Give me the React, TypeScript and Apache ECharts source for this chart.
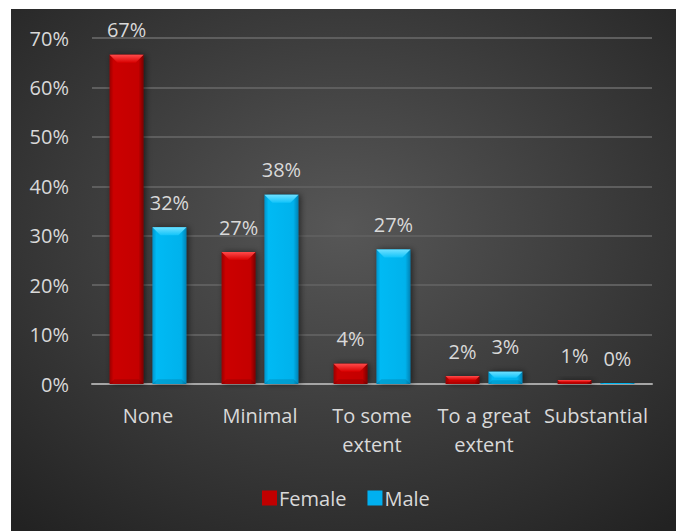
import React, { useEffect, useRef } from "react";
import * as echarts from "echarts";

const categories = ["None", "Minimal", "To some\nextent", "To a great\nextent", "Substantial"];
const femaleValues = [66.6, 26.7, 4.1, 1.6, 0.8];
const maleValues = [31.7, 38.3, 27.2, 2.5, 0.2];
const yTicks = [0, 10, 20, 30, 40, 50, 60, 70];

const FONT = "Open Sans";
const TXT = "#d9d9d9";
const FS = 20;

const BAR_W = 34;
const GAP_RATIO = 0.26;

export default function App() {
  const ref = useRef<HTMLDivElement>(null);
  useEffect(() => {
    if (!ref.current) return;
    const chart = echarts.init(ref.current, undefined, { renderer: "svg" });
    const redGrad = new echarts.graphic.LinearGradient(0, 0, 1, 0, [
      { offset: 0, color: "#9a0000" },
      { offset: 0.12, color: "#cc0000" },
      { offset: 0.85, color: "#c40000" },
      { offset: 1, color: "#7a0000" },
    ]);
    const cyanGrad = new echarts.graphic.LinearGradient(0, 0, 1, 0, [
      { offset: 0, color: "#0094cc" },
      { offset: 0.12, color: "#00baf4" },
      { offset: 0.85, color: "#00b2ec" },
      { offset: 1, color: "#0082b4" },
    ]);
    const label = {
      show: true,
      position: "top" as const,
      distance: 15,
      color: TXT,
      fontFamily: FONT,
      fontSize: FS,
      formatter: (p: any) => Math.round(p.value) + "%",
    };
    const bevelData: number[][] = [];
    femaleValues.forEach((v, i) => bevelData.push([i, v, 0]));
    maleValues.forEach((v, i) => bevelData.push([i, v, 1]));

    const bevelColors = [
      ["#ff4a4a", "#d80000"],
      ["#6ee0ff", "#12c4fa"],
    ];

    chart.setOption({
      animation: false,
      backgroundColor: {
        type: "radial",
        x: 0.5,
        y: 0.42,
        r: 0.75,
        colorStops: [
          { offset: 0, color: "#575757" },
          { offset: 1, color: "#222222" },
        ],
      },
      textStyle: { fontFamily: FONT },
      grid: { left: 81, right: 24, top: 29, bottom: 147 },
      legend: {
        top: 478,
        left: 251,
        padding: 0,
        itemWidth: 15,
        itemHeight: 15,
        itemGap: 21,
        icon: "rect",
        textStyle: { color: TXT, fontSize: FS, fontFamily: FONT, lineHeight: 22, padding: [0, 0, 0, -3] },
        data: [
          { name: "Female", itemStyle: { color: "#c00000" } },
          { name: "Male", itemStyle: { color: "#00b0f0" } },
        ],
      },
      xAxis: {
        type: "category",
        data: categories,
        axisLine: { lineStyle: { color: "#a6a6a6", width: 2 } },
        axisTick: { show: false },
        axisLabel: { color: TXT, fontSize: FS, fontFamily: FONT, margin: 17, lineHeight: 29, interval: 0 },
      },
      yAxis: {
        type: "value",
        min: yTicks[0],
        max: yTicks[yTicks.length - 1],
        interval: 10,
        axisLine: { show: false },
        axisTick: { show: false },
        axisLabel: { color: TXT, fontSize: FS, fontFamily: FONT, margin: 23, formatter: "{value}%" },
        splitLine: { lineStyle: { color: "#5e5e5e", width: 2 } },
      },
      series: [
        {
          name: "Female",
          type: "bar",
          data: femaleValues,
          barWidth: BAR_W,
          barGap: GAP_RATIO * 100 + "%",
          itemStyle: {
            color: redGrad,
            shadowBlur: 6,
            shadowColor: "rgba(0,0,0,0.55)",
            shadowOffsetX: 2,
            shadowOffsetY: 0,
          },
          label,
        },
        {
          name: "Male",
          type: "bar",
          data: maleValues,
          barWidth: BAR_W,
          itemStyle: {
            color: cyanGrad,
            shadowBlur: 6,
            shadowColor: "rgba(0,0,0,0.55)",
            shadowOffsetX: 2,
            shadowOffsetY: 0,
          },
          label,
        },
        {
          name: "bevel",
          type: "custom",
          silent: true,
          z: 5,
          data: bevelData,
          renderItem: (params: any, api: any) => {
            const idx = api.value(0);
            const v = api.value(1);
            const s = api.value(2);
            const topPt = api.coord([idx, v]);
            const basePt = api.coord([idx, 0]);
            const off = (BAR_W + BAR_W * GAP_RATIO) / 2;
            const cx = topPt[0] + (s === 0 ? -off : off);
            const x0 = cx - BAR_W / 2;
            const x1 = cx + BAR_W / 2;
            const h = basePt[1] - topPt[1];
            if (h < 1) return { type: "group", children: [] };
            const b = Math.min(8, h / 2);
            const top = topPt[1];
            const bot = basePt[1];
            const c = bevelColors[s];
            return {
              type: "group",
              children: [
                {
                  type: "polygon",
                  shape: {
                    points: [
                      [x0, top],
                      [x1, top],
                      [x1 - b, top + b],
                      [x0 + b, top + b],
                    ],
                  },
                  style: {
                    fill: new echarts.graphic.LinearGradient(0, 0, 0, 1, [
                      { offset: 0, color: c[0] },
                      { offset: 1, color: c[1] },
                    ]),
                  },
                },
                {
                  type: "polygon",
                  shape: {
                    points: [
                      [x0, bot],
                      [x1, bot],
                      [x1 - b * 0.6, bot - b * 0.6],
                      [x0 + b * 0.6, bot - b * 0.6],
                    ],
                  },
                  style: { fill: "rgba(0,0,0,0.12)" },
                },
              ],
            };
          },
        },
      ],
    });
    return () => chart.dispose();
  }, []);
  return (
    <div
      ref={ref}
      style={{ position: "absolute", left: 11, top: 9, width: 665, height: 522 }}
    />
  );
}
